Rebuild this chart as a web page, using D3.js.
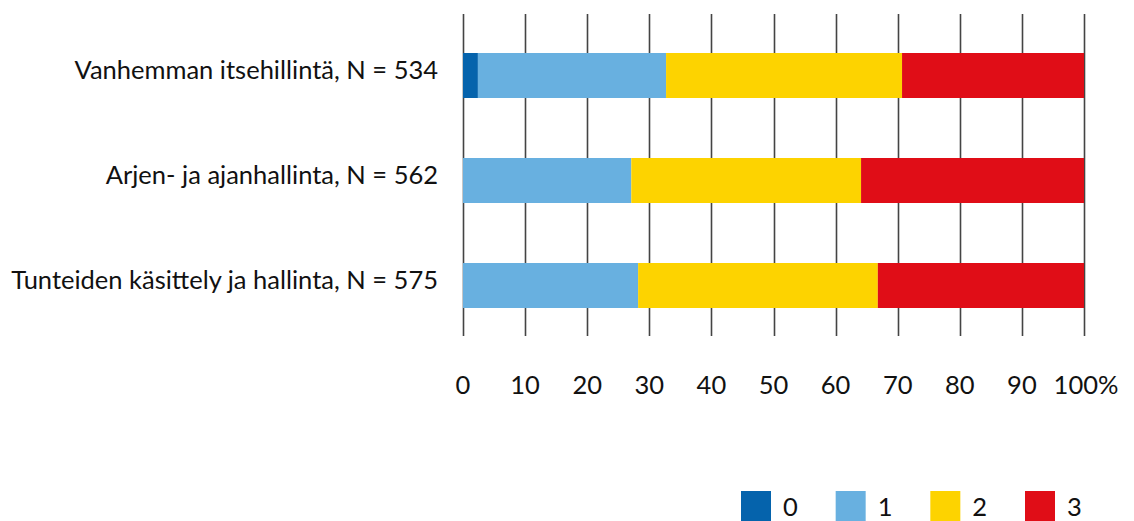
<!DOCTYPE html>
<html><head><meta charset="utf-8">
<script src="https://cdn.jsdelivr.net/npm/d3@7"></script>
<style>body{margin:0;background:#fff}svg{display:block}</style>
</head><body>
<script>
const categories = ["Vanhemman itsehillintä, N = 534", "Arjen- ja ajanhallinta, N = 562", "Tunteiden käsittely ja hallinta, N = 575"];
const seriesNames = ["0", "1", "2", "3"];
const series0 = [2.4, 0, 0];
const series1 = [30.3, 27.1, 28.2];
const series2 = [38.0, 37.0, 38.6];
const series3 = [29.3, 35.9, 33.2];
const tickValues = [0,10,20,30,40,50,60,70,80,90,100];
const tickLabels = ["0","10","20","30","40","50","60","70","80","90","100%"];
const colors = ["#0563AC", "#68B0E0", "#FDD300", "#E00D17"];

const W = 1134, H = 521;
const FONT = "Lato, 'Liberation Sans', sans-serif";
const FS = 25.5;
const svg = d3.select("body").append("svg").attr("width", W).attr("height", H);

const x = d3.scaleLinear().domain([0,100]).range([463, 1084]);
const y = d3.scaleBand().domain(categories).range([23, 338]).paddingInner(0.5714).paddingOuter(0.2857);

// gridlines
svg.append("g").selectAll("line").data(tickValues).join("line")
  .attr("x1", d => Math.round(x(d)) + 0.5).attr("x2", d => Math.round(x(d)) + 0.5)
  .attr("y1", 14).attr("y2", 336)
  .attr("stroke", "#444").attr("stroke-width", 1.6);

const rows = categories.map((c, i) => ({cat: c, vals: [series0[i], series1[i], series2[i], series3[i]]}));
const stackData = rows.map(r => { const o = {cat: r.cat}; seriesNames.forEach((s, j) => o[s] = r.vals[j]); return o; });
const stacked = d3.stack().keys(seriesNames)(stackData);

svg.append("g").selectAll("g").data(stacked).join("g")
  .attr("fill", (d, i) => colors[i])
  .selectAll("rect").data(d => d).join("rect")
  .attr("x", d => x(d[0])).attr("width", d => x(d[1]) - x(d[0]))
  .attr("y", d => y(d.data.cat)).attr("height", y.bandwidth());

// category labels
svg.append("g").selectAll("text").data(categories).join("text")
  .attr("x", 438).attr("y", d => y(d) + 26)
  .attr("text-anchor", "end")
  .attr("font-family", FONT).attr("font-size", FS).attr("fill", "#111")
  .text(d => d);

// x tick labels
svg.append("g").selectAll("text").data(tickValues).join("text")
  .attr("x", (d, i) => i === tickValues.length - 1 ? x(d) + 2 : x(d))
  .attr("y", 394)
  .attr("text-anchor", "middle")
  .attr("font-family", FONT).attr("font-size", FS).attr("fill", "#111")
  .text((d, i) => tickLabels[i]);

// legend
const legX = d3.scalePoint().domain(seriesNames).range([741, 1025]);
const lg = svg.append("g").selectAll("g").data(seriesNames).join("g")
  .attr("transform", d => `translate(${legX(d)},491)`);
lg.append("rect").attr("width", 30).attr("height", 30).attr("fill", (d, i) => colors[i]);
lg.append("text").attr("x", 42).attr("y", 24.5)
  .attr("font-family", FONT).attr("font-size", FS).attr("fill", "#111").text(d => d);
</script>
</body></html>
